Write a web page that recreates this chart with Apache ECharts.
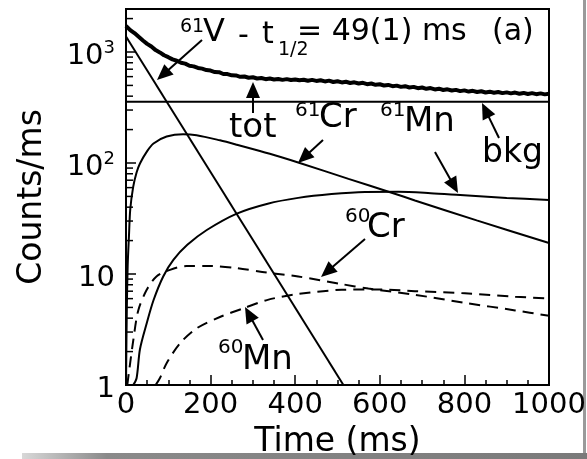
<!DOCTYPE html>
<html><head><meta charset="utf-8">
<script src="https://cdn.jsdelivr.net/npm/echarts@6/dist/echarts.min.js"></script>
<style>html,body{margin:0;padding:0;background:#fff}#c{width:587px;height:459px}</style>
</head><body><div id="c"></div>
<script>
const FONT = 'DejaVu Sans';
// tick values
const xTickInterval = 200;
const yMajorTicks = [1, 10, 100, 1000];
const yMinorTicks = [2,3,4,5,6,7,8,9,20,30,40,50,60,70,80,90,200,300,400,500,600,700,800,900,2000];
// series data: [time (ms), counts/ms]
const totData = [[0,1720],[10,1575],[20,1480],[30,1370],[40,1270],[50,1185],[60,1120],[70,1040],[80,992],[90,935],[100,898],[110,858],[120,834],[130,800],[140,785],[150,752],[160,742],[170,718],[180,708],[190,688],[200,680],[210,660],[220,658],[230,634],[240,632],[250,616],[260,615],[270,598],[280,602],[290,586],[300,592],[310,577],[320,583],[330,569],[340,577],[350,566],[360,572],[370,561],[380,570],[390,559],[400,566],[410,556],[420,563],[430,551],[440,561],[450,549],[460,556],[470,543],[480,552],[490,537],[500,545],[510,532],[520,539],[530,526],[540,533],[550,520],[560,528],[570,513],[580,520],[590,506],[600,512],[610,499],[620,505],[630,492],[640,498],[650,485],[660,492],[670,479],[680,485],[690,472],[700,479],[710,466],[720,473],[730,460],[740,467],[750,455],[760,461],[770,450],[780,456],[790,444],[800,451],[810,440],[820,447],[830,436],[840,443],[850,432],[860,439],[870,429],[880,436],[890,426],[900,433],[910,424],[920,431],[930,421],[940,428],[950,419],[960,426],[970,417],[980,424],[990,415],[1000,421]];
const v61Data = [[0,1380],[514,1]];
const bkgData = [[0,357],[1000,357]];
const cr61Data = [[0,1],[2,5],[4,12],[7,22],[10,38],[17,61],[25,82],[33,99],[50,128],[65,150],[96,173],[135,182],[167,178],[222,160],[262,146],[340,121],[407,101],[526,72],[628,54],[683,46],[829,30.4],[1000,19]];
const mn61Data = [[17,1],[25,1.15],[33,2.1],[49,3.6],[65,5.8],[88,9.5],[112,13.4],[145,18.3],[191,24.9],[262,35],[335,43],[407,48.5],[486,52.5],[565,54.8],[644,55],[720,53.5],[790,51.5],[900,48.5],[1000,46.4]];
const cr60Data = [[3,1],[8,1.4],[17,2.5],[29,4.7],[49,7.2],[72,9.5],[104,10.9],[143,11.8],[199,11.8],[262,11.3],[333,10.3],[407,9.5],[510,8.1],[573,7.4],[683,6.5],[801,5.5],[920,4.7],[1000,4.2]];
const mn60Data = [[70,1],[80,1.15],[96,1.57],[128,2.38],[167,3.24],[222,4.1],[277,4.9],[335,5.85],[407,6.6],[510,7.2],[600,7.25],[683,7.0],[801,6.7],[920,6.25],[1000,6.0]];

const chart = echarts.init(document.getElementById('c'), null, {renderer: 'canvas'});

function arrow(x1, y1, x2, y2) {
  const dx = x2 - x1, dy = y2 - y1, len = Math.hypot(dx, dy);
  const ux = dx / len, uy = dy / len, nx = -uy, ny = ux;
  const L = 16, W = 7;
  const bx = x2 - ux * L, by = y2 - uy * L;
  return {
    type: 'group', children: [
      {type: 'line', shape: {x1: x1, y1: y1, x2: bx + ux * 2, y2: by + uy * 2}, style: {stroke: '#000', lineWidth: 2}},
      {type: 'polygon', shape: {points: [[x2, y2], [bx + nx * W, by + ny * W], [bx - nx * W, by - ny * W]]}, style: {fill: '#000'}}
    ]
  };
}
function txt(s, x, y, size) {
  return {type: 'text', x: x, y: y, style: {text: s, font: size + 'px "' + FONT + '"', fill: '#000', verticalAlign: 'middle', align: 'left'}};
}

const lineBase = {type: 'line', showSymbol: false, symbol: 'none', silent: true, clip: true, animation: false};

chart.setOption({
  animation: false,
  backgroundColor: '#fff',
  grid: {left: 126, right: 38, top: 9, bottom: 74, show: true, borderColor: '#000', borderWidth: 2, containLabel: false, outerBoundsMode: 'none'},
  xAxis: {
    type: 'value', min: 0, max: 1000, interval: xTickInterval,
    axisLine: {show: true, onZero: false, lineStyle: {color: '#000', width: 2}},
    axisTick: {show: true, inside: true, length: 10, lineStyle: {color: '#000', width: 1.5}},
    minorTick: {show: true, splitNumber: 4, length: 5, lineStyle: {color: '#000', width: 1.5}},
    splitLine: {show: false},
    axisLabel: {color: '#000', fontFamily: FONT, fontSize: 29, margin: 6, showMinLabel: true, showMaxLabel: true, hideOverlap: false,
      formatter: function (v) { return String(v); }},
    name: 'Time (ms)', nameLocation: 'middle', nameGap: 41,
    nameTextStyle: {color: '#000', fontFamily: FONT, fontSize: 33}
  },
  yAxis: {
    type: 'log', logBase: 10, min: 1, max: 2440,
    axisLine: {show: true, lineStyle: {color: '#000', width: 2}},
    axisTick: {show: true, inside: true, length: 10, lineStyle: {color: '#000', width: 1.5}},
    splitLine: {show: false},
    axisLabel: {
      color: '#000', fontFamily: FONT, margin: 11, padding: [9, 0, 0, 0], hideOverlap: false,
      formatter: function (v) {
        if (Math.abs(v - 1) < 1e-6) return '{b|1}';
        if (Math.abs(v - 10) < 1e-6) return '{b|10}';
        if (Math.abs(v - 100) < 1e-6) return '{b|10}{s|2}';
        if (Math.abs(v - 1000) < 1e-6) return '{b|10}{s|3}';
        return '';
      },
      rich: {
        b: {fontFamily: FONT, fontSize: 29, lineHeight: 34, color: '#000'},
        s: {fontFamily: FONT, fontSize: 18, lineHeight: 16, verticalAlign: 'top', color: '#000'}
      }
    },
    name: 'Counts/ms', nameLocation: 'middle', nameGap: 77, nameRotate: 90,
    nameTextStyle: {color: '#000', fontFamily: FONT, fontSize: 33}
  },
  series: [
    Object.assign({}, lineBase, {name: 'tot', data: totData, lineStyle: {color: '#000', width: 4}}),
    Object.assign({}, lineBase, {name: '61V', data: v61Data, lineStyle: {color: '#000', width: 2}}),
    Object.assign({}, lineBase, {name: 'bkg', data: bkgData, lineStyle: {color: '#000', width: 2}}),
    Object.assign({}, lineBase, {name: '61Cr', data: cr61Data, smooth: 0.3, lineStyle: {color: '#000', width: 2}}),
    Object.assign({}, lineBase, {name: '61Mn', data: mn61Data, smooth: 0.3, lineStyle: {color: '#000', width: 2}}),
    Object.assign({}, lineBase, {name: '60Cr', data: cr60Data, smooth: 0.3, lineStyle: {color: '#000', width: 2, type: [11, 7]}}),
    Object.assign({}, lineBase, {name: '60Mn', data: mn60Data, smooth: 0.3, lineStyle: {color: '#000', width: 2, type: [11, 7]}}),
    {
      type: 'custom', name: 'minorTicks', silent: true, animation: false,
      data: yMinorTicks.map(function (v) { return [0, v]; }),
      encode: {x: 0, y: 1},
      renderItem: function (params, api) {
        const p = api.coord([0, api.value(1)]);
        return {type: 'line', shape: {x1: p[0], y1: p[1], x2: p[0] + 7, y2: p[1]}, style: {stroke: '#000', lineWidth: 1.5}};
      }
    }
  ],
  graphic: [
    {type: 'rect', shape: {x: 583, y: 0, width: 3, height: 455}, style: {fill: '#9a9a9a'}},
    {type: 'rect', shape: {x: 22, y: 453, width: 565, height: 6}, style: {fill: new echarts.graphic.LinearGradient(0, 0, 1, 0, [{offset: 0, color: '#d8d8d8'}, {offset: 0.15, color: '#8a8a8a'}, {offset: 1, color: '#7a7a7a'}])}},
    txt('61', 180, 27, 19), txt('V', 203, 33, 32), txt('-', 238, 36, 30), txt('t', 262, 35, 30), txt('1/2', 278, 50, 19),
    txt('= 49(1) ms', 297, 32, 30), txt('(a)', 492, 32, 30),
    txt('tot', 229, 128, 34),
    txt('61', 295, 111, 20), txt('Cr', 319, 118, 34),
    txt('61', 380, 111, 20), txt('Mn', 404, 122, 34),
    txt('bkg', 482, 153, 33),
    txt('60', 345, 217, 20), txt('Cr', 367, 228, 34),
    txt('60', 218, 348, 20), txt('Mn', 242, 360, 34),
    arrow(202, 40, 157, 80),
    arrow(253, 113, 253, 82),
    arrow(323, 140, 298, 163),
    arrow(435, 152, 458, 193),
    arrow(499, 138, 482, 103),
    arrow(365, 239, 321, 277),
    arrow(263, 340, 245, 307)
  ]
});
</script></body></html>
